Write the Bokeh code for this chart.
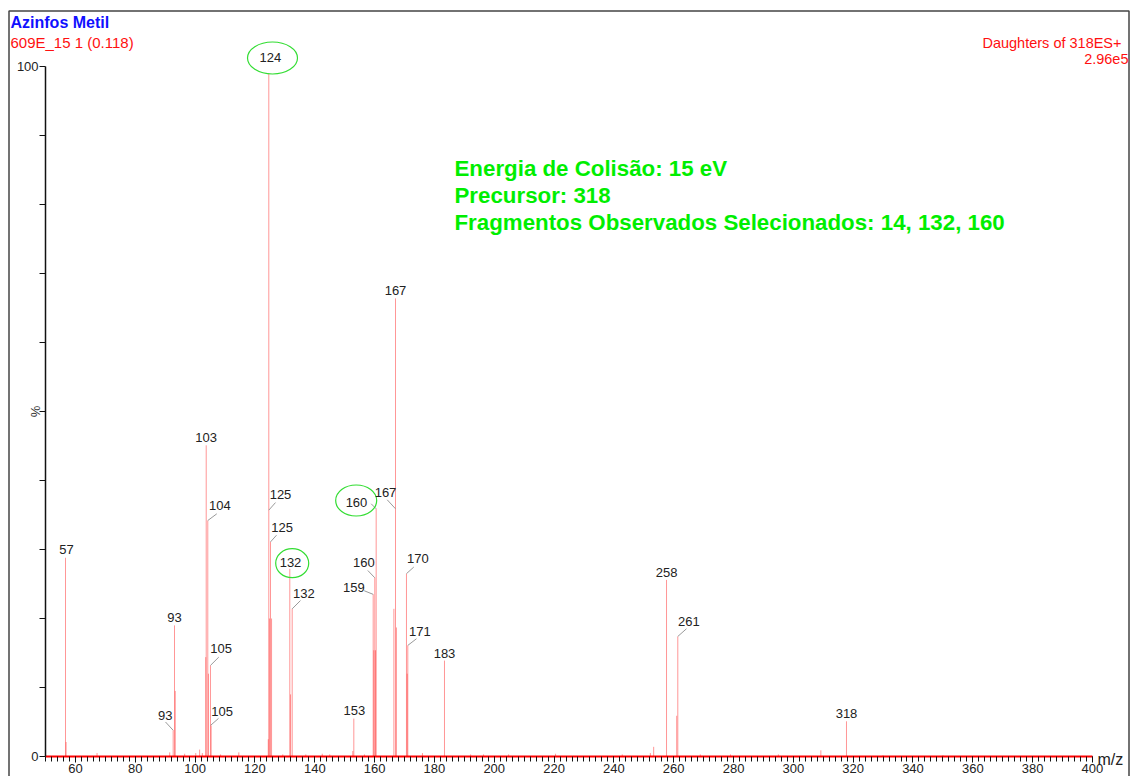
from bokeh.plotting import figure
from bokeh.models import Range1d, FixedTicker, Label, ColumnDataSource
from bokeh.embed import file_html
from bokeh.resources import INLINE
from bokeh.core.properties import value

# ---------------- data ----------------
stick_mz = [56.66, 56.85, 67.2, 91.5, 92.66, 93.10, 93.35, 96.5, 100.2, 101.5, 102.4,
            103.55, 103.70, 104.23, 104.45, 105.13, 105.35, 108.5, 114.6,
            124.45, 124.63, 124.85, 125.20, 125.55, 129.3,
            131.65, 131.9, 132.45, 137.0, 142.5, 145.0, 152.7, 153.05, 156.6,
            159.53, 159.75, 160.07, 160.3, 160.53,
            166.45, 166.99, 167.3, 170.66, 170.9, 171.10, 176.0, 183.37,
            192.1, 196.4, 204.8, 220.5, 242.8, 252.2, 253.3, 257.6, 261.0, 261.37,
            268.9, 279.0, 295.0, 309.2, 317.77, 330.0, 350.0]
stick_int = [28.8, 2.1, 0.5, 0.6, 3.8, 19.0, 9.5, 0.4, 0.5, 1.0, 0.5,
             14.4, 45.1, 34.2, 12.0, 13.2, 4.5, 0.3, 0.6,
             2.5, 100.0, 20.0, 31.1, 20.0, 0.3,
             27.2, 9.0, 21.4, 0.3, 0.4, 0.3, 0.8, 5.5, 0.3,
             23.5, 15.4, 25.9, 15.4, 35.9,
             21.4, 66.4, 18.7, 26.5, 12.0, 16.1, 0.5, 13.9,
             0.3, 0.3, 0.3, 0.4, 0.3, 0.5, 1.4, 25.6, 5.9, 17.4,
             0.3, 0.3, 0.3, 0.9, 5.1, 0.2, 0.2]

label_mz = [56.66, 93.10, 92.66, 103.70, 104.23, 105.13, 105.13, 124.63, 124.63, 125.20,
            131.65, 132.45, 153.05, 159.53, 160.07, 160.53, 166.99, 166.99, 170.66, 171.10,
            183.37, 257.6, 261.37, 317.77]
label_int = [28.8, 19.0, 3.8, 45.1, 34.2, 13.2, 4.5, 100.0, 35.7, 31.1,
             27.2, 21.4, 5.5, 23.5, 25.9, 35.9, 66.4, 35.9, 26.5, 16.1,
             13.9, 25.6, 17.4, 5.1]
label_text = ["57", "93", "93", "103", "104", "105", "105", "124", "125", "125",
              "132", "132", "153", "159", "160", "160", "167", "167", "170", "171",
              "183", "258", "261", "318"]
ringed = ["124", "132", "160"]   # the three labels circled in green

x_major = list(range(60, 401, 20))
x_minor = list(range(50, 401, 2))
y_ticks = list(range(0, 101, 10))

title_text = "Azinfos Metil"
sub_text = "609E_15 1 (0.118)"
right_text = ["Daughters of 318ES+", "2.96e5"]
note_lines = ["Energia de Colisão: 15 eV", "Precursor: 318",
              "Fragmentos Observados Selecionados: 14, 132, 160"]

# ---------------- layout ----------------
W, H = 1130, 776
XPX = 2.991            # px per m/z unit   (m/z 60 at px 75)
YPX = 6.9              # px per percent    (0 % at px 756)

def px2x(px):
    return 60 + (px - 75) / XPX

def py2y(py):
    return (756 - py) / YPX

FONT = "Liberation Sans"

# label offsets in screen px: (text dx, text dy, leader start) ; None = no leader
offsets = {
    0: (1, -8, None), 1: (0, -7.5, None), 2: (-8, -15, (-7.7, -8.3)),
    3: (0, -7.5, None), 4: (12, -15, (9, -6.7)), 5: (10.7, -16.7, (8.3, -8.3)),
    6: (11.7, -14.3, (8, -7)), 7: (1.5, -8.7, None), 8: (11.7, -15.3, (6.7, -7.6)),
    9: (11.7, -14.4, (6, -6.7)), 10: (0.7, -6.6, None), 11: (11.6, -15.6, (8.3, -8.3)),
    12: (0.5, -7.6, None), 13: (-19.4, -7.3, (-9, -3.6)), 14: (-11, -15.6, (-7, -7.3)),
    15: (-19.7, -6.6, (-5, -5)), 16: (0, -7.5, None), 17: (-10, -16.6, (-8.3, -9)),
    18: (11.3, -15, (7.3, -6.6)), 19: (12, -14.3, (8.7, -6.7)), 20: (0, -7.5, None),
    21: (0, -7.6, None), 22: (11, -15.3, (8.7, -7.7)), 23: (0, -7.4, None),
}
ellipses = {7: (3.7, -8.5, 50, 32), 10: (2.4, -5.6, 33, 29), 15: (-20, -8.3, 41, 31)}

p = figure(width=W, height=H, x_range=Range1d(px2x(0), px2x(W)),
           y_range=Range1d(py2y(H), py2y(0)),
           output_backend="svg", toolbar_location=None,
           min_border_left=0, min_border_right=0, min_border_top=0, min_border_bottom=0)
p.min_border = 0
p.xgrid.visible = False
p.ygrid.visible = False
p.outline_line_color = None
p.background_fill_color = "white"
p.border_fill_color = "white"

# outer frame of the page
p.quad(left=[px2x(8.5)], right=[px2x(1128.5)], top=[py2y(10.5)], bottom=[py2y(800)],
       fill_color=None, line_color="#444444", line_width=1.5)

# sticks
src = ColumnDataSource(dict(x=stick_mz, y0=[0] * len(stick_mz), y1=stick_int))
p.segment(x0="x", y0="y0", x1="x", y1="y1", source=src,
          line_color="#ff3030", line_alpha=0.5, line_width=1)

# peak labels and leaders
tx, ty, tt = [], [], []
lx0, ly0, lx1, ly1 = [], [], [], []
ex, ey, ew, eh = [], [], [], []
for i, (m, v, t) in enumerate(zip(label_mz, label_int, label_text)):
    dx, dy, lead = offsets[i]
    tx.append(m + dx / XPX)
    ty.append(v - dy / YPX)
    tt.append(t)
    if lead is not None:
        lx0.append(m + lead[0] / XPX)
        ly0.append(v - lead[1] / YPX)
        lx1.append(m)
        ly1.append(v)
    if i in ellipses and t in ringed:
        edx, edy, w, h = ellipses[i]
        ex.append(m + edx / XPX)
        ey.append(v - edy / YPX)
        ew.append(w)
        eh.append(h)

p.segment(x0=lx0, y0=ly0, x1=lx1, y1=ly1, line_color="#9a9a9a", line_width=1)
p.ellipse(x=ex[:1], y=ey[:1], width=ew[:1], height=eh[:1], width_units="screen",
          height_units="screen", fill_color="white", line_color="#33dd33", line_width=1.2)
p.ellipse(x=ex[1:], y=ey[1:], width=ew[1:], height=eh[1:], width_units="screen",
          height_units="screen", fill_color=None, line_color="#33dd33", line_width=1.2)
p.text(x=tx, y=ty, text=tt, text_font=value(FONT), text_font_size="13px",
       text_color="#222222", text_align="center", text_baseline="middle")

# axes (drawn at fixed locations inside the full-size frame)
xa = p.xaxis[0]
xa.fixed_location = 0
xa.ticker = FixedTicker(ticks=x_major, minor_ticks=x_minor)
xa.bounds = (50, 400)
xa.axis_line_color = "#ff0000"
xa.axis_line_width = 2
xa.major_tick_line_color = "#111111"
xa.minor_tick_line_color = "#111111"
xa.major_tick_in = 0
xa.major_tick_out = 6
xa.minor_tick_in = 0
xa.minor_tick_out = 5
xa.major_label_standoff = 1
xa.major_label_text_font = FONT
xa.major_label_text_font_size = "13px"
xa.major_label_text_color = "#222222"

ya = p.yaxis[0]
ya.fixed_location = 50
ya.ticker = FixedTicker(ticks=y_ticks, minor_ticks=[])
ya.major_label_overrides = {t: "" for t in y_ticks if t not in (0, 100)}
ya.bounds = (0, 100)
ya.axis_line_color = "#111111"
ya.axis_line_width = 1.5
ya.major_tick_line_color = "#111111"
ya.major_tick_in = 0
ya.major_tick_out = 6
ya.major_label_standoff = 1
ya.major_label_text_font = FONT
ya.major_label_text_font_size = "13px"
ya.major_label_text_color = "#222222"

# texts
p.add_layout(Label(x=px2x(10), y=py2y(22), text=title_text, text_font=FONT,
                   text_font_style="bold", text_font_size="16px", text_color="#1010ff",
                   text_baseline="middle", text_align="left"))
p.add_layout(Label(x=px2x(10), y=py2y(42), text=sub_text, text_font=FONT,
                   text_font_size="15px", text_color="#ff1010",
                   text_baseline="middle", text_align="left"))
right_x = [1121, 1128]
for k, s in enumerate(right_text):
    p.add_layout(Label(x=px2x(right_x[k]), y=py2y(42 + 16 * k), text=s, text_font=FONT,
                       text_font_size="14.5px", text_color="#ff1010",
                       text_baseline="middle", text_align="right"))
for k, s in enumerate(note_lines):
    p.add_layout(Label(x=px2x(454), y=py2y(168 + 27 * k), text=s, text_font=FONT,
                       text_font_style="bold", text_font_size="22.3px", text_color="#00ee00",
                       text_baseline="middle", text_align="left"))
p.add_layout(Label(x=px2x(35), y=50, text="%", text_font=FONT, text_font_size="13px",
                   text_color="#333333", angle=1.5708, text_baseline="middle",
                   text_align="center"))
p.add_layout(Label(x=px2x(1097), y=py2y(759), text="m/z", text_font=FONT,
                   text_font_size="16px", text_color="#222222",
                   text_baseline="middle", text_align="left"))

open("out.html", "w").write(file_html(p, INLINE))
